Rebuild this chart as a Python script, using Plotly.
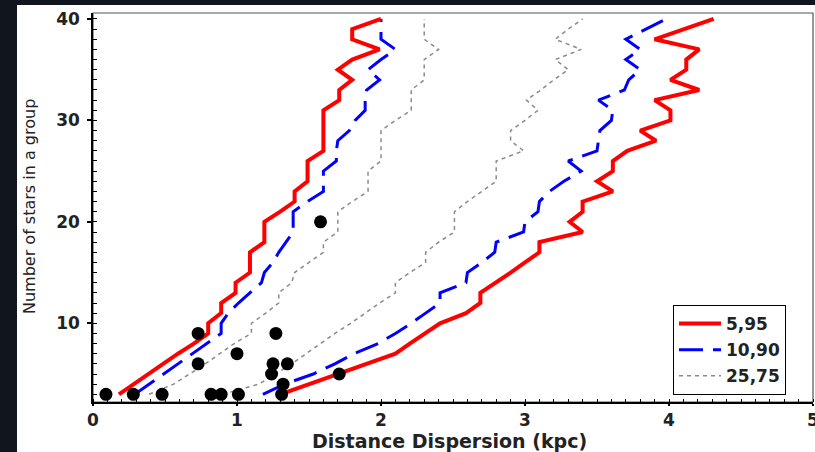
import plotly.graph_objects as go

# Group size (number of stars in a group)
n_stars = list(range(3, 41))

# Percentile envelopes of the distance dispersion (kpc), lower / upper bound per group size
p05 = [0.18, 0.28, 0.39, 0.49, 0.59, 0.70, 0.80, 0.80, 0.89, 0.89, 0.99, 0.99, 1.09, 1.09,
       1.09, 1.19, 1.19, 1.19, 1.30, 1.40, 1.40, 1.49, 1.49, 1.49, 1.60, 1.60, 1.60, 1.60,
       1.60, 1.71, 1.71, 1.80, 1.70, 1.80, 1.99, 1.80, 1.80, 2.00]
p95 = [1.30, 1.50, 1.70, 1.90, 2.10, 2.20, 2.31, 2.41, 2.59, 2.69, 2.69, 2.80, 2.90, 3.00,
       3.10, 3.10, 3.40, 3.31, 3.40, 3.40, 3.61, 3.50, 3.61, 3.61, 3.71, 3.91, 3.80, 4.01,
       4.01, 3.90, 4.21, 4.01, 4.12, 4.12, 4.21, 3.90, 4.10, 4.31]
p10 = [0.29, 0.39, 0.49, 0.59, 0.69, 0.79, 0.89, 0.89, 0.94, 1.01, 1.09, 1.17, 1.19, 1.25,
       1.29, 1.34, 1.39, 1.39, 1.39, 1.49, 1.60, 1.60, 1.60, 1.69, 1.69, 1.70, 1.78, 1.82,
       1.89, 1.89, 1.90, 1.99, 1.91, 2.00, 2.10, 2.00, 2.00, 2.00]
p90 = [1.18, 1.33, 1.53, 1.68, 1.81, 1.98, 2.10, 2.21, 2.31, 2.41, 2.41, 2.59, 2.60, 2.70,
       2.79, 2.80, 2.99, 3.00, 3.09, 3.10, 3.17, 3.27, 3.39, 3.30, 3.50, 3.51, 3.52, 3.60,
       3.61, 3.51, 3.69, 3.72, 3.80, 3.70, 3.80, 3.70, 3.84, 3.98]
p25 = [0.39, 0.56, 0.67, 0.78, 0.88, 0.98, 1.10, 1.10, 1.20, 1.29, 1.29, 1.38, 1.40, 1.50,
       1.60, 1.60, 1.70, 1.70, 1.70, 1.80, 1.91, 1.91, 1.91, 2.00, 2.00, 2.00, 2.00, 2.10,
       2.21, 2.21, 2.21, 2.30, 2.30, 2.30, 2.40, 2.30, 2.30, 2.30]
p75 = [0.90, 1.15, 1.27, 1.38, 1.48, 1.58, 1.68, 1.79, 1.89, 1.99, 2.10, 2.10, 2.20, 2.31,
       2.31, 2.40, 2.51, 2.51, 2.51, 2.60, 2.70, 2.80, 2.80, 2.80, 2.99, 2.90, 2.90, 3.00,
       3.09, 3.01, 3.11, 3.20, 3.30, 3.21, 3.39, 3.21, 3.30, 3.40]

# Observed groups
obs_dispersion = [0.09, 0.28, 0.48, 0.73, 0.73, 0.82, 0.89, 1.00, 1.01, 1.27, 1.25, 1.35,
                  1.24, 1.32, 1.31, 1.58, 1.71]
obs_n = [3, 3, 3, 9, 6, 3, 3, 7, 3, 9, 6, 6, 5, 4, 3, 20, 5]

legend_labels = ["5,95", "10,90", "25,75"]

BOLD = dict(family="DejaVu Sans", size=17, color="#222222", weight="bold")

fig = go.Figure()

envelopes = [
    (legend_labels[2], p25, p75, dict(color="#8a8a8a", width=1.5, dash="4px,4px"), 3),
    (legend_labels[1], p10, p90, dict(color="#0000ff", width=3, dash="24px,10px"), 2),
    (legend_labels[0], p05, p95, dict(color="#ff0000", width=4), 1),
]
for label, lo, hi, line, rank in envelopes:
    for i, xs in enumerate((lo, hi)):
        fig.add_trace(go.Scatter(
            x=xs, y=n_stars, mode="lines", line=line, name=label,
            legendgroup=label, showlegend=(i == 0), legendrank=rank,
        ))

fig.add_trace(go.Scatter(
    x=obs_dispersion, y=obs_n, mode="markers",
    marker=dict(color="black", size=13), showlegend=False,
))

W, H = 815, 452
ML, MR, MT, MB = 93, 2, 13, 50
pw, ph = W - ML - MR, H - MT - MB


def px_to_paper(px, py):
    return (px - ML) / pw, (H - MB - py) / ph


axis_common = dict(
    showline=True, linecolor="black", linewidth=1.5, mirror=False,
    showgrid=False, zeroline=False, automargin=False,
    ticks="outside", tickwidth=1.5, tickcolor="black",
    tickfont=BOLD,
)

fig.update_xaxes(
    range=[0, 5], tickvals=[0, 1, 2, 3, 4, 5], ticklen=2, ticklabeloverflow="allow",
    minor=dict(dtick=0.1, tick0=0, ticks="inside", ticklen=3, tickwidth=1, tickcolor="black"),
    **axis_common,
)
fig.update_yaxes(
    range=[2.24, 40.59], tick0=0, dtick=10, ticklen=4, ticklabelstandoff=4,
    minor=dict(dtick=1, tick0=0, ticks="inside", ticklen=4, tickwidth=1, tickcolor="black"),
    **axis_common,
)

x0p, y1p = px_to_paper(17, 5)
x1p, y0p = px_to_paper(815, 452)

lx, ly = px_to_paper(673, 305)
xt_x, xt_y = px_to_paper(449, 441)
yt_x, yt_y = px_to_paper(29, 207)

fig.update_layout(
    width=W, height=H, autosize=False,
    margin=dict(l=ML, r=MR, t=MT, b=MB, pad=0),
    paper_bgcolor="#11151e", plot_bgcolor="white",
    shapes=[
        dict(type="rect", xref="paper", yref="paper", x0=x0p, x1=x1p + 0.01, y0=y0p - 0.01, y1=y1p,
             fillcolor="white", line=dict(width=0), layer="below"),
        dict(type="rect", xref="paper", yref="paper", x0=0, x1=1, y0=0, y1=1,
             line=dict(color="#555555", width=1.2), layer="below"),
    ],
    annotations=[
        dict(text="Distance Dispersion (kpc)", xref="paper", yref="paper", x=xt_x, y=xt_y,
             xanchor="center", yanchor="middle", showarrow=False,
             font=dict(family="DejaVu Sans", size=19, color="#222222", weight="bold")),
        dict(text="Number of stars in a group", xref="paper", yref="paper", x=yt_x, y=yt_y,
             xanchor="center", yanchor="middle", showarrow=False, textangle=-90,
             font=dict(family="DejaVu Sans", size=16, color="#222222")),
    ],
    legend=dict(
        x=lx, y=ly, xanchor="left", yanchor="top",
        bgcolor="white", bordercolor="black", borderwidth=1,
        font=dict(family="DejaVu Sans", size=17, color="#222222", weight="bold"),
        tracegroupgap=1, itemwidth=42,
    ),
)

fig.write_html("out.html")
